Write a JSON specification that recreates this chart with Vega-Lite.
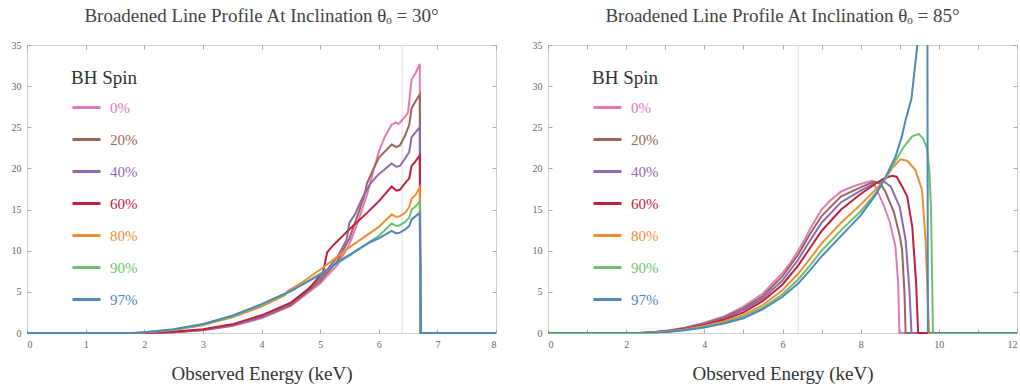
{
  "$schema": "https://vega.github.io/schema/vega-lite/v6.json",
  "background": "white",
  "padding": {"left": 10, "top": 6, "right": 0, "bottom": 0},
  "spacing": 30,
  "config": {
    "font": "'Liberation Serif', 'DejaVu Serif', serif",
    "view": {"stroke": "#cfcfcf", "strokeWidth": 1},
    "axis": {
      "domain": false, "grid": false, "ticks": true, "tickSize": -4, "tickColor": "#aaa",
      "labelFont": "'Liberation Serif', 'DejaVu Serif', serif", "labelFontSize": 10, "labelColor": "#666", "labelPadding": 10,
      "titleFont": "'Liberation Serif', 'DejaVu Serif', serif", "titleFontSize": 19, "titleFontWeight": "normal", "titleColor": "#333", "titlePadding": 15
    },
    "title": {"font": "'Liberation Serif', 'DejaVu Serif', serif", "fontSize": 19, "fontWeight": "normal", "color": "#444", "offset": 14},
    "legend": {
      "orient": "none", "legendX": 44, "legendY": 24,
      "titleFont": "'Liberation Serif', 'DejaVu Serif', serif", "titleFontSize": 19, "titleFontWeight": "normal", "titleColor": "#333", "titlePadding": 4,
      "symbolType": "stroke", "symbolSize": 784, "symbolStrokeWidth": 3,
      "labelFont": "'Liberation Serif', 'DejaVu Serif', serif", "labelFontSize": 15, "labelOffset": 8, "rowPadding": 8,
      "labelColor": {"expr": "({'0%':'#e27ab8','20%':'#9a6659','40%':'#8d6ab0','60%':'#c0203f','80%':'#ee8f33','90%':'#6fbf6f','97%':'#4f88b9'})[datum.value]"}
    }
  },
  "datasets": {
    "a": [
      {"s":"0%","e":0,"f":0},{"s":"0%","e":2.1,"f":0},{"s":"0%","e":2.5,"f":0.08},{"s":"0%","e":3.0,"f":0.33},{"s":"0%","e":3.5,"f":0.85},{"s":"0%","e":4.0,"f":1.8},{"s":"0%","e":4.5,"f":3.3},{"s":"0%","e":5.0,"f":6.0},{"s":"0%","e":5.3,"f":8.3},{"s":"0%","e":5.5,"f":10.8},{"s":"0%","e":5.65,"f":13.6},{"s":"0%","e":5.8,"f":16.8},{"s":"0%","e":5.9,"f":19.5},{"s":"0%","e":6.0,"f":22.0},{"s":"0%","e":6.1,"f":23.8},{"s":"0%","e":6.22,"f":25.3},{"s":"0%","e":6.29,"f":25.6},{"s":"0%","e":6.34,"f":25.4},{"s":"0%","e":6.45,"f":26.3},{"s":"0%","e":6.5,"f":26.8},{"s":"0%","e":6.56,"f":30.8},{"s":"0%","e":6.63,"f":31.6},{"s":"0%","e":6.7,"f":32.7},{"s":"0%","e":6.71,"f":0},{"s":"0%","e":8,"f":0},
      {"s":"20%","e":0,"f":0},{"s":"20%","e":2.05,"f":0},{"s":"20%","e":2.5,"f":0.1},{"s":"20%","e":3.0,"f":0.37},{"s":"20%","e":3.5,"f":0.9},{"s":"20%","e":4.0,"f":1.9},{"s":"20%","e":4.5,"f":3.4},{"s":"20%","e":5.0,"f":6.3},{"s":"20%","e":5.3,"f":8.8},{"s":"20%","e":5.5,"f":11.5},{"s":"20%","e":5.65,"f":14.5},{"s":"20%","e":5.75,"f":16.6},{"s":"20%","e":5.8,"f":18.2},{"s":"20%","e":5.9,"f":19.8},{"s":"20%","e":6.0,"f":21.3},{"s":"20%","e":6.22,"f":22.9},{"s":"20%","e":6.3,"f":22.6},{"s":"20%","e":6.36,"f":22.8},{"s":"20%","e":6.45,"f":24.0},{"s":"20%","e":6.52,"f":25.3},{"s":"20%","e":6.56,"f":27.3},{"s":"20%","e":6.63,"f":28.2},{"s":"20%","e":6.7,"f":29.0},{"s":"20%","e":6.71,"f":0},{"s":"20%","e":8,"f":0},
      {"s":"40%","e":0,"f":0},{"s":"40%","e":2.0,"f":0},{"s":"40%","e":2.5,"f":0.12},{"s":"40%","e":3.0,"f":0.4},{"s":"40%","e":3.5,"f":0.95},{"s":"40%","e":4.0,"f":2.0},{"s":"40%","e":4.5,"f":3.6},{"s":"40%","e":5.0,"f":6.6},{"s":"40%","e":5.3,"f":9.3},{"s":"40%","e":5.45,"f":11.3},{"s":"40%","e":5.5,"f":13.4},{"s":"40%","e":5.6,"f":14.5},{"s":"40%","e":5.72,"f":16.4},{"s":"40%","e":5.86,"f":18.2},{"s":"40%","e":6.0,"f":19.3},{"s":"40%","e":6.22,"f":20.6},{"s":"40%","e":6.3,"f":20.2},{"s":"40%","e":6.36,"f":20.3},{"s":"40%","e":6.45,"f":21.2},{"s":"40%","e":6.52,"f":22.0},{"s":"40%","e":6.56,"f":23.8},{"s":"40%","e":6.63,"f":24.4},{"s":"40%","e":6.7,"f":25.0},{"s":"40%","e":6.71,"f":0},{"s":"40%","e":8,"f":0},
      {"s":"60%","e":0,"f":0},{"s":"60%","e":2.0,"f":0},{"s":"60%","e":2.5,"f":0.14},{"s":"60%","e":3.0,"f":0.45},{"s":"60%","e":3.5,"f":1.05},{"s":"60%","e":4.0,"f":2.15},{"s":"60%","e":4.5,"f":3.7},{"s":"60%","e":4.8,"f":5.3},{"s":"60%","e":5.05,"f":7.4},{"s":"60%","e":5.12,"f":9.8},{"s":"60%","e":5.2,"f":10.5},{"s":"60%","e":5.5,"f":12.6},{"s":"60%","e":5.8,"f":14.6},{"s":"60%","e":6.0,"f":16.0},{"s":"60%","e":6.22,"f":17.8},{"s":"60%","e":6.3,"f":17.3},{"s":"60%","e":6.36,"f":17.4},{"s":"60%","e":6.45,"f":18.2},{"s":"60%","e":6.52,"f":18.8},{"s":"60%","e":6.56,"f":20.3},{"s":"60%","e":6.63,"f":20.9},{"s":"60%","e":6.7,"f":21.6},{"s":"60%","e":6.71,"f":0},{"s":"60%","e":8,"f":0},
      {"s":"80%","e":0,"f":0},{"s":"80%","e":1.9,"f":0},{"s":"80%","e":2.0,"f":0.05},{"s":"80%","e":2.5,"f":0.35},{"s":"80%","e":3.0,"f":0.95},{"s":"80%","e":3.5,"f":1.9},{"s":"80%","e":4.0,"f":3.2},{"s":"80%","e":4.4,"f":4.6},{"s":"80%","e":4.45,"f":5.1},{"s":"80%","e":4.7,"f":6.2},{"s":"80%","e":5.04,"f":7.9},{"s":"80%","e":5.5,"f":10.4},{"s":"80%","e":6.0,"f":12.9},{"s":"80%","e":6.22,"f":14.4},{"s":"80%","e":6.3,"f":14.1},{"s":"80%","e":6.36,"f":14.2},{"s":"80%","e":6.45,"f":14.6},{"s":"80%","e":6.52,"f":15.3},{"s":"80%","e":6.56,"f":16.3},{"s":"80%","e":6.63,"f":16.8},{"s":"80%","e":6.7,"f":17.7},{"s":"80%","e":6.71,"f":0},{"s":"80%","e":8,"f":0},
      {"s":"90%","e":0,"f":0},{"s":"90%","e":1.85,"f":0},{"s":"90%","e":2.0,"f":0.08},{"s":"90%","e":2.5,"f":0.4},{"s":"90%","e":3.0,"f":1.0},{"s":"90%","e":3.5,"f":2.0},{"s":"90%","e":4.0,"f":3.4},{"s":"90%","e":4.5,"f":5.1},{"s":"90%","e":5.0,"f":7.2},{"s":"90%","e":5.5,"f":9.4},{"s":"90%","e":6.0,"f":11.8},{"s":"90%","e":6.22,"f":13.3},{"s":"90%","e":6.3,"f":13.0},{"s":"90%","e":6.36,"f":13.1},{"s":"90%","e":6.45,"f":13.5},{"s":"90%","e":6.52,"f":14.0},{"s":"90%","e":6.56,"f":15.0},{"s":"90%","e":6.63,"f":15.4},{"s":"90%","e":6.7,"f":16.0},{"s":"90%","e":6.71,"f":0},{"s":"90%","e":8,"f":0},
      {"s":"97%","e":0,"f":0},{"s":"97%","e":1.8,"f":0},{"s":"97%","e":2.0,"f":0.1},{"s":"97%","e":2.5,"f":0.45},{"s":"97%","e":3.0,"f":1.1},{"s":"97%","e":3.5,"f":2.1},{"s":"97%","e":4.0,"f":3.5},{"s":"97%","e":4.5,"f":5.1},{"s":"97%","e":5.0,"f":7.1},{"s":"97%","e":5.32,"f":8.7},{"s":"97%","e":5.84,"f":11.0},{"s":"97%","e":6.0,"f":11.5},{"s":"97%","e":6.22,"f":12.4},{"s":"97%","e":6.3,"f":12.1},{"s":"97%","e":6.36,"f":12.2},{"s":"97%","e":6.45,"f":12.6},{"s":"97%","e":6.52,"f":13.0},{"s":"97%","e":6.56,"f":13.8},{"s":"97%","e":6.63,"f":14.2},{"s":"97%","e":6.7,"f":14.6},{"s":"97%","e":6.72,"f":0},{"s":"97%","e":8,"f":0}
    ],
    "b": [
      {"s":"0%","e":0,"f":0},{"s":"0%","e":2.3,"f":0},{"s":"0%","e":2.6,"f":0.05},{"s":"0%","e":3.0,"f":0.25},{"s":"0%","e":3.5,"f":0.65},{"s":"0%","e":4.0,"f":1.25},{"s":"0%","e":4.5,"f":2.0},{"s":"0%","e":5.0,"f":3.2},{"s":"0%","e":5.5,"f":4.8},{"s":"0%","e":6.0,"f":7.3},{"s":"0%","e":6.2,"f":8.5},{"s":"0%","e":6.4,"f":10.0},{"s":"0%","e":6.55,"f":11.2},{"s":"0%","e":6.7,"f":12.6},{"s":"0%","e":6.85,"f":13.8},{"s":"0%","e":7.0,"f":15.0},{"s":"0%","e":7.2,"f":16.0},{"s":"0%","e":7.5,"f":17.2},{"s":"0%","e":7.8,"f":17.8},{"s":"0%","e":8.0,"f":18.1},{"s":"0%","e":8.3,"f":18.5},{"s":"0%","e":8.45,"f":17.0},{"s":"0%","e":8.6,"f":15.4},{"s":"0%","e":8.75,"f":13.4},{"s":"0%","e":8.89,"f":10.5},{"s":"0%","e":8.96,"f":6.0},{"s":"0%","e":8.99,"f":0},{"s":"0%","e":12,"f":0},
      {"s":"20%","e":0,"f":0},{"s":"20%","e":2.3,"f":0},{"s":"20%","e":2.6,"f":0.05},{"s":"20%","e":3.0,"f":0.22},{"s":"20%","e":3.5,"f":0.6},{"s":"20%","e":4.0,"f":1.15},{"s":"20%","e":4.5,"f":1.9},{"s":"20%","e":5.0,"f":3.0},{"s":"20%","e":5.5,"f":4.5},{"s":"20%","e":6.0,"f":6.9},{"s":"20%","e":6.4,"f":9.5},{"s":"20%","e":6.7,"f":12.0},{"s":"20%","e":7.0,"f":14.2},{"s":"20%","e":7.5,"f":16.6},{"s":"20%","e":8.0,"f":17.7},{"s":"20%","e":8.35,"f":18.4},{"s":"20%","e":8.5,"f":18.2},{"s":"20%","e":8.63,"f":17.2},{"s":"20%","e":8.85,"f":14.7},{"s":"20%","e":9.0,"f":11.8},{"s":"20%","e":9.06,"f":10.1},{"s":"20%","e":9.12,"f":5.0},{"s":"20%","e":9.15,"f":0},{"s":"20%","e":12,"f":0},
      {"s":"40%","e":0,"f":0},{"s":"40%","e":2.4,"f":0},{"s":"40%","e":3.0,"f":0.2},{"s":"40%","e":3.5,"f":0.55},{"s":"40%","e":4.0,"f":1.05},{"s":"40%","e":4.5,"f":1.75},{"s":"40%","e":5.0,"f":2.8},{"s":"40%","e":5.5,"f":4.2},{"s":"40%","e":6.0,"f":6.4},{"s":"40%","e":6.4,"f":8.9},{"s":"40%","e":6.7,"f":11.2},{"s":"40%","e":7.0,"f":13.4},{"s":"40%","e":7.5,"f":15.9},{"s":"40%","e":8.0,"f":17.3},{"s":"40%","e":8.4,"f":18.3},{"s":"40%","e":8.6,"f":18.4},{"s":"40%","e":8.77,"f":17.8},{"s":"40%","e":9.0,"f":15.3},{"s":"40%","e":9.15,"f":11.3},{"s":"40%","e":9.25,"f":5.0},{"s":"40%","e":9.3,"f":0},{"s":"40%","e":12,"f":0},
      {"s":"60%","e":0,"f":0},{"s":"60%","e":2.4,"f":0},{"s":"60%","e":3.0,"f":0.18},{"s":"60%","e":3.5,"f":0.5},{"s":"60%","e":4.0,"f":0.95},{"s":"60%","e":4.5,"f":1.6},{"s":"60%","e":5.0,"f":2.5},{"s":"60%","e":5.5,"f":3.9},{"s":"60%","e":6.0,"f":5.9},{"s":"60%","e":6.4,"f":8.2},{"s":"60%","e":6.7,"f":10.3},{"s":"60%","e":7.0,"f":12.4},{"s":"60%","e":7.5,"f":15.0},{"s":"60%","e":8.0,"f":16.9},{"s":"60%","e":8.4,"f":18.2},{"s":"60%","e":8.6,"f":18.8},{"s":"60%","e":8.8,"f":19.1},{"s":"60%","e":8.92,"f":19.0},{"s":"60%","e":9.06,"f":17.8},{"s":"60%","e":9.19,"f":16.6},{"s":"60%","e":9.32,"f":12.9},{"s":"60%","e":9.42,"f":6.0},{"s":"60%","e":9.47,"f":0},{"s":"60%","e":12,"f":0},
      {"s":"80%","e":0,"f":0},{"s":"80%","e":2.5,"f":0},{"s":"80%","e":3.0,"f":0.15},{"s":"80%","e":3.5,"f":0.42},{"s":"80%","e":4.0,"f":0.85},{"s":"80%","e":4.5,"f":1.4},{"s":"80%","e":5.0,"f":2.2},{"s":"80%","e":5.5,"f":3.4},{"s":"80%","e":6.0,"f":5.2},{"s":"80%","e":6.4,"f":7.2},{"s":"80%","e":6.7,"f":9.0},{"s":"80%","e":7.0,"f":10.9},{"s":"80%","e":7.5,"f":13.4},{"s":"80%","e":8.0,"f":15.6},{"s":"80%","e":8.4,"f":17.5},{"s":"80%","e":8.64,"f":18.8},{"s":"80%","e":8.8,"f":20.0},{"s":"80%","e":9.02,"f":21.1},{"s":"80%","e":9.2,"f":20.9},{"s":"80%","e":9.4,"f":19.8},{"s":"80%","e":9.57,"f":17.4},{"s":"80%","e":9.66,"f":11.3},{"s":"80%","e":9.75,"f":0},{"s":"80%","e":12,"f":0},
      {"s":"90%","e":0,"f":0},{"s":"90%","e":2.5,"f":0},{"s":"90%","e":3.0,"f":0.12},{"s":"90%","e":3.5,"f":0.38},{"s":"90%","e":4.0,"f":0.75},{"s":"90%","e":4.5,"f":1.25},{"s":"90%","e":5.0,"f":2.0},{"s":"90%","e":5.5,"f":3.1},{"s":"90%","e":6.0,"f":4.7},{"s":"90%","e":6.4,"f":6.5},{"s":"90%","e":6.7,"f":8.2},{"s":"90%","e":7.0,"f":10.0},{"s":"90%","e":7.5,"f":12.5},{"s":"90%","e":8.0,"f":14.8},{"s":"90%","e":8.4,"f":17.1},{"s":"90%","e":8.64,"f":18.9},{"s":"90%","e":8.9,"f":21.0},{"s":"90%","e":9.1,"f":22.6},{"s":"90%","e":9.32,"f":23.9},{"s":"90%","e":9.49,"f":24.2},{"s":"90%","e":9.6,"f":23.6},{"s":"90%","e":9.7,"f":22.4},{"s":"90%","e":9.76,"f":19.5},{"s":"90%","e":9.8,"f":15.0},{"s":"90%","e":9.85,"f":0},{"s":"90%","e":12,"f":0},
      {"s":"97%","e":0,"f":0},{"s":"97%","e":2.5,"f":0},{"s":"97%","e":3.0,"f":0.1},{"s":"97%","e":3.5,"f":0.33},{"s":"97%","e":4.0,"f":0.68},{"s":"97%","e":4.5,"f":1.15},{"s":"97%","e":5.0,"f":1.8},{"s":"97%","e":5.5,"f":2.9},{"s":"97%","e":6.0,"f":4.4},{"s":"97%","e":6.4,"f":6.0},{"s":"97%","e":6.7,"f":7.6},{"s":"97%","e":7.0,"f":9.3},{"s":"97%","e":7.5,"f":11.8},{"s":"97%","e":8.0,"f":14.3},{"s":"97%","e":8.4,"f":16.9},{"s":"97%","e":8.64,"f":19.0},{"s":"97%","e":8.89,"f":21.4},{"s":"97%","e":9.05,"f":23.8},{"s":"97%","e":9.15,"f":25.9},{"s":"97%","e":9.3,"f":28.5},{"s":"97%","e":9.45,"f":35},{"s":"97%","e":9.6,"f":45},{"s":"97%","e":9.7,"f":60},{"s":"97%","e":9.72,"f":0},{"s":"97%","e":12,"f":0}
    ]
  },
  "resolve": {"scale": {"color": "independent"}, "legend": {"color": "independent"}},
  "hconcat": [
    {
      "width": 469, "height": 288,
      "title": {"text": "Broadened Line Profile At Inclination θₒ = 30°"},
      "resolve": {"axis": {"x": "independent", "y": "independent"}},
      "layer": [
        {
          "data": {"values": [{"e": 6.4, "lo": 0, "hi": 35}]},
          "mark": {"type": "rule", "color": "#dedede", "strokeWidth": 1},
          "encoding": {
            "x": {"field": "e", "type": "quantitative", "scale": {"domain": [0, 8], "nice": false}, "axis": {"orient": "top", "labels": false, "title": null, "values": [0,1,2,3,4,5,6,7,8]}},
            "y": {"field": "lo", "type": "quantitative", "scale": {"domain": [0, 35], "nice": false}, "axis": {"orient": "right", "labels": false, "title": null, "values": [0,5,10,15,20,25,30,35]}},
            "y2": {"field": "hi"}
          }
        },
        {
          "data": {"name": "a"},
          "mark": {"type": "line", "strokeWidth": 2},
          "encoding": {
            "x": {"field": "e", "type": "quantitative", "axis": {"orient": "bottom", "title": "Observed Energy (keV)", "values": [0,1,2,3,4,5,6,7,8]}},
            "y": {"field": "f", "type": "quantitative", "axis": {"orient": "left", "title": null, "values": [0,5,10,15,20,25,30,35]}},
            "color": {"field": "s", "type": "nominal", "title": "BH Spin",
              "scale": {"domain": ["0%","20%","40%","60%","80%","90%","97%"], "range": ["#e27ab8","#9a6659","#8d6ab0","#c0203f","#ee8f33","#6fbf6f","#4f88b9"]}}
          }
        }
      ]
    },
    {
      "width": 469, "height": 288,
      "title": {"text": "Broadened Line Profile At Inclination θₒ = 85°"},
      "resolve": {"axis": {"x": "independent", "y": "independent"}},
      "layer": [
        {
          "data": {"values": [{"e": 6.4, "lo": 0, "hi": 35}]},
          "mark": {"type": "rule", "color": "#dedede", "strokeWidth": 1},
          "encoding": {
            "x": {"field": "e", "type": "quantitative", "scale": {"domain": [0, 12], "nice": false}, "axis": {"orient": "top", "labels": false, "title": null, "values": [0,1,2,3,4,5,6,7,8,9,10,11,12]}},
            "y": {"field": "lo", "type": "quantitative", "scale": {"domain": [0, 35], "nice": false}, "axis": {"orient": "right", "labels": false, "title": null, "values": [0,5,10,15,20,25,30,35]}},
            "y2": {"field": "hi"}
          }
        },
        {
          "data": {"name": "b"},
          "transform": [{"filter": "datum.s != '97%'"}],
          "mark": {"type": "line", "strokeWidth": 2},
          "encoding": {
            "x": {"field": "e", "type": "quantitative", "axis": {"orient": "bottom", "title": "Observed Energy (keV)", "values": [0,1,2,3,4,5,6,7,8,9,10,11,12], "labelFlush": true, "labelExpr": "datum.value % 2 == 0 ? datum.label : ''"}},
            "y": {"field": "f", "type": "quantitative", "axis": {"orient": "left", "title": null, "values": [0,5,10,15,20,25,30,35]}},
            "color": {"field": "s", "type": "nominal", "title": "BH Spin",
              "scale": {"domain": ["0%","20%","40%","60%","80%","90%","97%"], "range": ["#e27ab8","#9a6659","#8d6ab0","#c0203f","#ee8f33","#6fbf6f","#4f88b9"]}}
          }
        },
        {
          "data": {"name": "b"},
          "transform": [{"filter": "datum.s == '97%'"}],
          "mark": {"type": "line", "strokeWidth": 2, "clip": true},
          "encoding": {
            "x": {"field": "e", "type": "quantitative", "axis": null},
            "y": {"field": "f", "type": "quantitative", "axis": null},
            "color": {"field": "s", "type": "nominal", "title": "BH Spin",
              "scale": {"domain": ["0%","20%","40%","60%","80%","90%","97%"], "range": ["#e27ab8","#9a6659","#8d6ab0","#c0203f","#ee8f33","#6fbf6f","#4f88b9"]}}
          }
        }
      ]
    }
  ]
}
